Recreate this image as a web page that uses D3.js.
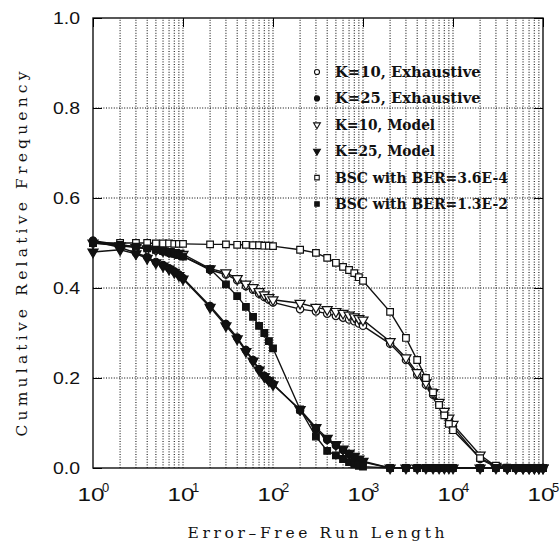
<!DOCTYPE html>
<html>
<head>
<meta charset="utf-8">
<script src="https://cdn.jsdelivr.net/npm/d3@7"></script>
<style>
  body { margin: 0; background: #fff; }
  svg { display: block; }
</style>
</head>
<body>
<script>
// run lengths where the curves were sampled
var runLengths = [1,2,3,4,5,6,7,8,9,10,
                  20,30,40,50,60,70,80,90,100,
                  200,300,400,500,600,700,800,900,1000,
                  2000,3000,4000,5000,6000,7000,8000,9000,10000,
                  20000,30000,40000,50000,60000,70000,80000,90000,100000];

var k10Exhaustive = [0.505,0.496,0.491,0.487,0.484,0.481,0.478,0.476,0.474,0.471,
                     0.440,0.430,0.417,0.404,0.396,0.387,0.380,0.374,0.368,
                     0.353,0.348,0.343,0.338,0.334,0.330,0.326,0.321,0.316,
                     0.276,0.240,0.207,0.185,0.163,0.141,0.122,0.107,0.092,
                     0.020,0.002,0,0,0,0,0,0,0];
var k25Exhaustive = [0.505,0.490,0.478,0.469,0.458,0.451,0.444,0.437,0.430,0.422,
                     0.360,0.320,0.290,0.262,0.240,0.220,0.205,0.195,0.187,
                     0.128,0.086,0.063,0.050,0.040,0.031,0.024,0.018,0.013,
                     0,0,0,0,0,0,0,0,0,
                     0,0,0,0,0,0,0,0,0];
var k10Model = [0.500,0.494,0.490,0.487,0.485,0.483,0.481,0.479,0.477,0.475,
                0.443,0.434,0.421,0.409,0.401,0.392,0.385,0.379,0.374,
                0.366,0.357,0.352,0.348,0.344,0.340,0.336,0.332,0.329,
                0.281,0.245,0.212,0.190,0.168,0.146,0.126,0.111,0.097,
                0.029,0.004,0,0,0,0,0,0,0];
var k25Model = [0.480,0.485,0.476,0.466,0.456,0.449,0.442,0.435,0.428,0.420,
                0.357,0.316,0.287,0.259,0.238,0.218,0.203,0.194,0.185,
                0.130,0.090,0.066,0.052,0.042,0.033,0.026,0.020,0.015,
                0,0,0,0,0,0,0,0,0,
                0,0,0,0,0,0,0,0,0];
var bscLow = [0.500,0.500,0.500,0.500,0.499,0.499,0.499,0.498,0.498,0.498,
              0.497,0.497,0.496,0.496,0.495,0.495,0.494,0.494,0.493,
              0.485,0.478,0.467,0.456,0.447,0.440,0.433,0.424,0.416,
              0.347,0.289,0.240,0.200,0.168,0.140,0.117,0.098,0.084,
              0.022,0.005,0.001,0,0,0,0,0,0];
var bscHigh = [0.500,0.496,0.492,0.488,0.485,0.482,0.479,0.476,0.473,0.470,
               0.442,0.408,0.382,0.358,0.336,0.316,0.300,0.282,0.266,
               0.130,0.070,0.038,0.028,0.020,0.013,0.008,0.005,0.003,
               0,0,0,0,0,0,0,0,0,
               0,0,0,0,0,0,0,0,0];

var legendLabels = ["K=10, Exhaustive","K=25, Exhaustive","K=10, Model",
                    "K=25, Model","BSC with BER=3.6E-4","BSC with BER=1.3E-2"];
var yTicks = [0, 0.2, 0.4, 0.6, 0.8, 1.0];
var xDecades = [1, 10, 100, 1000, 10000, 100000];

var W = 560, H = 542;
var svg = d3.select("body").append("svg").attr("width", W).attr("height", H);

var x = d3.scaleLog().domain([1, 1e5]).range([93, 543]);
var y = d3.scaleLinear().domain([0, 1]).range([468, 18]);

// dotted grid: every log minor line and the 0.2 steps
var minor = [];
for (var p = 0; p < 5; p++) for (var m = 1; m < 10; m++) {
  var v = m * Math.pow(10, p);
  if (v > 1) minor.push(v);
}
svg.append("g").selectAll("line").data(minor).enter().append("line")
  .attr("x1", function(d){ return x(d); }).attr("x2", function(d){ return x(d); })
  .attr("y1", y(0)).attr("y2", y(1))
  .attr("stroke", "#000").attr("stroke-width", 1).attr("stroke-dasharray", "1,1.6");
svg.append("g").selectAll("line").data([0.2,0.4,0.6,0.8]).enter().append("line")
  .attr("x1", x(1)).attr("x2", x(1e5))
  .attr("y1", function(d){ return y(d); }).attr("y2", function(d){ return y(d); })
  .attr("stroke", "#000").attr("stroke-width", 1).attr("stroke-dasharray", "1,1.6");

// frame
svg.append("rect").attr("x", x(1)).attr("y", y(1))
  .attr("width", x(1e5) - x(1)).attr("height", y(0) - y(1))
  .attr("fill", "none").attr("stroke", "#111").attr("stroke-width", 1.4);

// inward ticks
var yAxis = d3.axisLeft(y).tickValues(yTicks).tickSize(-9).tickPadding(13)
  .tickFormat(d3.format(".1f"));
var gy = svg.append("g").attr("transform", "translate(" + x(1) + ",0)").call(yAxis);
gy.select(".domain").remove();
gy.selectAll("text").attr("font-family", "Liberation Sans, Arial, sans-serif")
  .attr("font-size", 16).attr("fill", "#111").attr("textLength", 27)
  .attr("lengthAdjust", "spacingAndGlyphs");
svg.append("g").attr("transform", "translate(" + x(1e5) + ",0)")
  .call(d3.axisRight(y).tickValues(yTicks).tickSize(-9).tickFormat(""))
  .select(".domain").remove();
svg.append("g").attr("transform", "translate(0," + y(1) + ")")
  .call(d3.axisTop(x).tickValues(xDecades).tickSize(-9).tickFormat(""))
  .select(".domain").remove();
var gx = svg.append("g").attr("transform", "translate(0," + y(0) + ")")
  .call(d3.axisBottom(x).tickValues(xDecades).tickSize(0).tickFormat(""));
gx.select(".domain").remove();
gx.selectAll(".tick line").remove();
var lab = gx.selectAll(".tick");
lab.append("text").attr("x", 11).attr("y", 33).attr("text-anchor", "end")
  .attr("font-family", "Liberation Sans, Arial, sans-serif").attr("font-size", 19)
  .attr("fill", "#111").attr("textLength", 27).attr("lengthAdjust", "spacingAndGlyphs")
  .text("10");
lab.append("text").attr("x", 12).attr("y", 24)
  .attr("font-family", "Liberation Sans, Arial, sans-serif").attr("font-size", 13)
  .attr("fill", "#111").text(function(d){ return Math.round(Math.log10(d)); });

// axis titles
svg.append("text").attr("x", 316).attr("y", 538).attr("text-anchor", "middle")
  .attr("font-family", "DejaVu Serif, serif").attr("font-size", 15.5).attr("fill", "#111")
  .attr("textLength", 257).attr("lengthAdjust", "spacing")
  .text("Error\u2013Free Run Length");
svg.append("text").attr("transform", "translate(27,254) rotate(-90)")
  .attr("text-anchor", "middle")
  .attr("font-family", "DejaVu Serif, serif").attr("font-size", 15.5).attr("fill", "#111")
  .attr("textLength", 365).attr("lengthAdjust", "spacing")
  .text("Cumulative Relative Frequency");

// series
var series = [
  { values: k10Exhaustive, shape: d3.symbolCircle, filled: false, size: 42 },
  { values: k25Exhaustive, shape: d3.symbolCircle, filled: true, size: 42 },
  { values: k10Model, shape: d3.symbolTriangle, filled: false, size: 44, flip: true },
  { values: k25Model, shape: d3.symbolTriangle, filled: true, size: 44, flip: true },
  { values: bscLow, shape: d3.symbolSquare, filled: false, size: 44 },
  { values: bscHigh, shape: d3.symbolSquare, filled: true, size: 44 }
];

var line = d3.line().x(function(d){ return x(d[0]); }).y(function(d){ return y(d[1]); });

series.forEach(function(s){
  var pts = runLengths.map(function(r, i){ return [r, s.values[i]]; });
  svg.append("path").datum(pts).attr("d", line)
    .attr("fill", "none").attr("stroke", "#111").attr("stroke-width", 1.4);
});
series.forEach(function(s){
  var pts = runLengths.map(function(r, i){ return [r, s.values[i]]; });
  svg.append("g").selectAll("path").data(pts).enter().append("path")
    .attr("d", d3.symbol().type(s.shape).size(s.size))
    .attr("transform", function(d){
      return "translate(" + x(d[0]) + "," + y(d[1]) + ")" + (s.flip ? " rotate(180)" : "");
    })
    .attr("fill", s.filled ? "#111" : "#fff")
    .attr("stroke", "#111").attr("stroke-width", 1.2);
});

// legend
var lg = svg.append("g");
legendLabels.forEach(function(t, i){
  var s = series[i];
  var ly = 72 + i * 26.4;
  lg.append("path").attr("d", d3.symbol().type(s.shape).size(20))
    .attr("transform", "translate(317," + ly + ")" + (s.flip ? " rotate(180)" : ""))
    .attr("fill", s.filled ? "#111" : "#fff").attr("stroke", "#111").attr("stroke-width", 1.1);
  lg.append("text").attr("x", 335).attr("y", ly + 5)
    .attr("font-family", "DejaVu Serif, serif").attr("font-weight", "bold")
    .attr("font-size", 14).attr("fill", "#111")
    .attr("textLength", t.length * 9.1).attr("lengthAdjust", "spacingAndGlyphs")
    .text(t);
});
</script>
</body>
</html>
